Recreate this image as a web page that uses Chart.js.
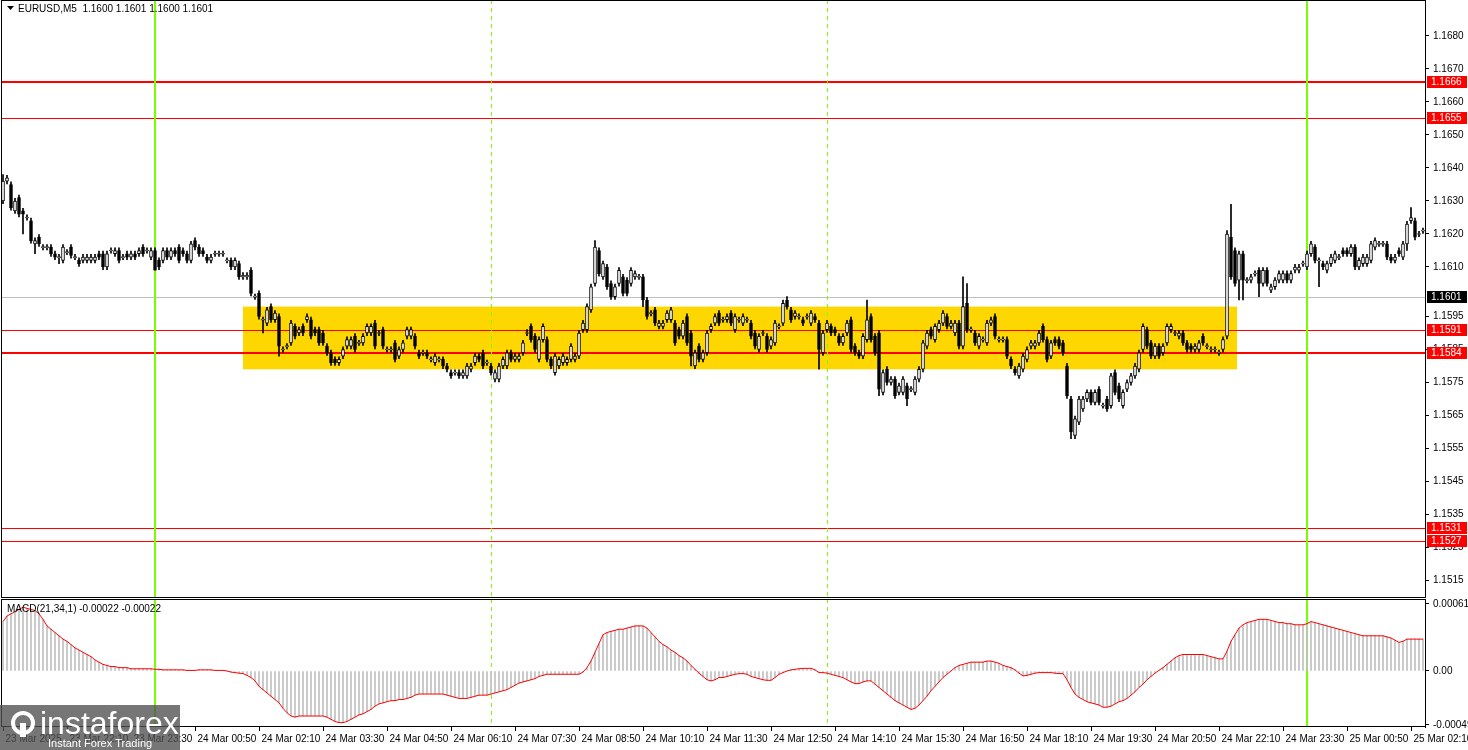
<!DOCTYPE html>
<html>
<head>
<meta charset="utf-8">
<script src="https://cdn.jsdelivr.net/npm/chart.js@4"></script>
<style>
  body { margin: 0; background: #fff; width: 1468px; height: 750px; overflow: hidden; position: relative; }
  canvas { position: absolute; left: 0; }
</style>
</head>
<body>
<canvas id="price" width="1468" height="598" style="top:0"></canvas>
<canvas id="macd" width="1468" height="151" style="top:599px"></canvas>
<script>
// candle bodies, pips above 1.1500 (EURUSD M5, 23 Mar 20:50 -> 25 Mar 02:25)
const opens = [130,136,135,127,131,127,125,124,117,119, 116,116,116,114,113,112,114.5,116,113,112,
  112,112,112,112,114,114,110,115,114,115, 113,114,113,114,114,116,115,113,115,112,
  112,115,113,115,116,115,114,112,118,116, 115,113,112,114,114,114,112,112,110,111,
  107,107,109,101,102,94,93,98,94,95, 85,86,87,92,90,92,94,94,91,91,
  90,86,84,82,81,83,86,86,89,87, 87,90,90,93,90,91,85,85,87,83,
  85,89,89,89,84,84,84,82,81,82, 82,80,78,78,78,77,77,79,81,83,
  84,81,80,76,76,80,80,84,82,82, 84,90,92,89,82,88,88,82,78,80,
  81,81,82,82,83,91,91,97,105,115, 107,110,105,101,105,107,106,105,107,107,
  107,100,96,97,92,92,94,94,93,91, 89,95,90,80,86,82,84,91,93,96,
  94,94,96,91,94,93,94,93,90,85, 90,89,86,87,92,93,100,97,95,95,
  94,95,93,95,93,84,91,92,91,89, 87,90,94,86,84,83,88,95,89,90,
  72,79,75,76,72,72,74,73,72,76, 79,86,91,88,91,93,95,92,90,93,
  86,99,91,90,86,88,87,93,95,88, 88,88,82,79,77,79,82,86,86,87,
  92,88,83,88,88,87,80,70,59,63, 67,70,72,69,73,68,70,68,78,74,
  68,73,75,77,79,85,91,87,83,86, 84,87,91,90,89,90,87,86,85,85,
  89,86,85,85,84,85,89,119,115,106, 114,106,106,108,109,105,109,103,104,106,
  106,108,106,109,109,111,110,114,116,112, 111,109,111,112,113,115,115,114,116,110,
  111,111,112,116,117,117,117,113,112,115, 113,117,124,124,120,121];
const closes = [136,137,128,130,126,126,125,118,118,117, 116,116,114,113,113,116,114.5,113.5,113,111,
  113,113,113,113,113,110,114,115,115,112, 113,113,114,113,115,114,115,115,109,110,
  115,113,115,114,112,114,112,117,116,114, 114,112,113,114,114,114,112,110,112,107,
  107.5,107.5,102,101,95,94,97,94,96,86, 85,86,93,89,91,90,95,89,90,87,
  87,84,81,81,82,85,88,88,85,87, 89,92,92,86,90,86,85,85,82,85,
  87,91,91,86,83,84,83,82,83,82, 80,79,77,78,77,78,80,80,83,82,
  80,81,78,78,80,82,84,82,83,83, 87,90,88,85,88,92,82,80,83,82,
  83,82,86,83,90,93,98,104,116,108, 111,104,101,104,109,102,102,109,108,107,
  100,95,96,93,93,93,96,97,87,89, 93,87,83,84,82,84,90,92,95,93,
  94,95,93,95,94,95,94,89,86,89, 90,85,88,93,92,99,98,94,96,95,
  93,95,96,94,85,90,93,90,90,87, 89,93,85,84,83,89,94,88,84,73,
  78,75,76,71,74,76,70,73,76,79, 87,90,89,92,93,96,92,93,93,86,
  98,91,91,87,89,88,93,94,89,88, 88,83,80,78,80,83,85,87,87,90,
  88,82,87,87,86,84,71,60,64,70, 70,72,69,72,69,68,67,77,72,70,
  72,75,77,80,84,92,86,83,86,83, 86,92,92,90,90,87,85,85,86,87,
  87,86,85,85,84,88,120,107,105,114, 106,106,107,108,105,109,105,104,106,108,
  108,106,108,110,110,111,114,117,112,112, 110,111,113,114,113,114,114,116,110,112,
  113,113,117,118,117,117,113,112,113,114, 117,123,125,119,120,121];
// notable wick extremes [candle index, pips]
const wickHighs = [[0,138],[131,91],[148,118],[195,100],[196,101],[216,100],[240,107],[241,105],[306,121],[307,129],[352,128]];
const wickLows = [[5,120],[8,114],[14,111],[38,109],[65,90],[69,83],[160,98],[172,80],[204,79],[219,71],[226,68],
  [267,58],[268,58],[309,100],[310,100],[314,101],[329,104],[351,115]];
// MACD(21,34,1) in units of 0.00001
const macd = [45,50,52,54,56,58,57,56,55,52, 47,41,38,35,32,29,27,24,21,19,
  17,15,13,10,8,6,5,4,4,3, 3,3,2,2,2,2,2,2,1.5,1.5,
  1,1,1,1,1,1,0.5,0.5,0.5,1, 1,1,1,0.5,0.5,0.5,0,-1,-1.5,-2,
  -2.4,-4,-6,-9,-14,-17,-20,-23,-26,-29, -34,-38,-41,-42,-41,-41,-41,-41,-41,-41,
  -41,-42,-44,-46,-47,-47,-46,-44,-42,-40, -39,-37,-35,-32,-30,-29,-28,-27,-27,-26,
  -26,-25,-24,-22,-21,-21,-21,-21,-21,-21, -21,-22,-23,-24,-25,-25,-25,-24,-23,-22,
  -22,-22,-21,-20,-19,-18,-17,-15,-13,-11, -10,-9,-8,-7,-5,-4,-3,-3,-3,-3,
  -3,-3,-3,-3,-3,-1,3,9,17,25, 33,35,36,37,38,38,39,40,41,41,
  41,39,35,31,27,24,22,19,17,14, 12,9,5,1.5,-2,-5,-8,-9,-8,-6,
  -6,-5,-4,-3,-2.5,-2.4,-3,-5,-6,-7, -8,-8.5,-8.5,-6,-3,-1.5,0,1,1.5,2,
  2.4,2.4,2.4,1,-1.5,-1.5,-2,-3,-4,-5, -6,-8,-10,-11.5,-11.5,-10,-9,-9,-12,-15,
  -18,-21,-24,-27,-29,-31,-33,-35,-34,-31, -27,-23,-18,-14,-10,-6,-3,0,3,5,
  6,7,8,8,8,8,9,9,8,7, 5,4,3,1,-2,-4.5,-4,-3,-2,-1.5,
  -1.5,-1.5,-1.5,-2,-2.4,-2.4,-8,-15,-21,-24, -26,-28,-29,-30,-31,-33,-33,-32,-30,-28,
  -27,-25,-22,-19,-15,-12,-8,-5,-2,0.6, 3,6,9,12,14,15,15,15,15,15,
  15,14,13,12,11,11,18,27,33,39, 42,44,45,46,47,47,47,46,45,44,
  44,43,43,42,42,42,43,45,44,43, 42,41,40,39,38,37,36,35,34,33,
  32,32,32,32,32,32,31,30,28,26, 27,29,29,29,29,29];

const timeIdx = [0,16,32,48,64,80,96,112,128,144,160,176,192,208,224,240,256,272,288,304,320,336,352];
const timeLabels = ['23 Mar 2025','23 Mar 22:10','23 Mar 23:30','24 Mar 00:50','24 Mar 02:10','24 Mar 03:30',
  '24 Mar 04:50','24 Mar 06:10','24 Mar 07:30','24 Mar 08:50','24 Mar 10:10','24 Mar 11:30','24 Mar 12:50',
  '24 Mar 14:10','24 Mar 15:30','24 Mar 16:50','24 Mar 18:10','24 Mar 19:30','24 Mar 20:50','24 Mar 22:10',
  '24 Mar 23:30','25 Mar 00:50','25 Mar 02:10'];
const priceTicks = [1.1680,1.1670,1.1660,1.1650,1.1640,1.1630,1.1620,1.1610,1.1595,1.1585,1.1575,1.1565,1.1555,1.1545,1.1535,1.1525,1.1515];
const redLevels = [[1.1666,2],[1.1655,1],[1.1591,1],[1.1584,2],[1.1531,1],[1.1527,1]];
const bidLevel = 1.1601;
const zone = [1.1579, 1.1598, 60, 308.5];   // price from, price to, candle from, candle to
const dayLines = [38, 326];
const dashLines = [122, 206];

const FONT = '10px "Liberation Sans", Arial, sans-serif';
Chart.defaults.font.family = '"Liberation Sans", Arial, sans-serif';
Chart.defaults.font.size = 10;
Chart.defaults.color = '#000';

const P = v => 1.15 + v / 10000;
const idx = opens.map((_, i) => i);
const hiMap = new Map(wickHighs), loMap = new Map(wickLows);
const bodies = opens.map((o, i) => {
  const c = closes[i];
  return o === c ? [P(o - 0.15), P(o + 0.15)] : [P(o), P(c)];
});
const wicks = opens.map((o, i) => {
  const top = Math.max(o, closes[i]), bot = Math.min(o, closes[i]);
  return [P(loMap.has(i) ? loMap.get(i) : bot - 0.8), P(hiMap.has(i) ? hiMap.get(i) : top + 0.8)];
});

function fitAxis(s) {
  s.width = 43;
  s.paddingTop = 0;
  s.paddingBottom = 0;
}

function vLines(chart) {
  const { ctx, chartArea: a, scales: { x } } = chart;
  ctx.save();
  ctx.strokeStyle = '#7cfc00';
  ctx.lineWidth = 1;
  ctx.setLineDash([4, 4]);
  dashLines.forEach(i => {
    const px = Math.round(x.getPixelForValue(i)) + 0.5;
    ctx.beginPath(); ctx.moveTo(px, a.top); ctx.lineTo(px, a.bottom); ctx.stroke();
  });
  ctx.setLineDash([]);
  ctx.lineWidth = 2;
  dayLines.forEach(i => {
    const px = Math.round(x.getPixelForValue(i));
    ctx.beginPath(); ctx.moveTo(px, a.top); ctx.lineTo(px, a.bottom); ctx.stroke();
  });
  ctx.restore();
}

function axisBox(ctx, y, text, bg) {
  ctx.fillStyle = bg;
  ctx.fillRect(1427, Math.round(y) - 6, 40, 12);
  ctx.fillStyle = '#fff';
  ctx.textBaseline = 'middle';
  ctx.textAlign = 'left';
  ctx.fillText(text, 1431, Math.round(y) + 0.5);
}

const priceDeco = {
  id: 'priceDeco',
  beforeDatasetsDraw(chart) {
    const { ctx, chartArea: a, scales: { x, y } } = chart;
    ctx.save();
    ctx.fillStyle = '#ffd700';
    const x0 = x.getPixelForValue(zone[2]), x1 = x.getPixelForValue(zone[3]);
    const y0 = y.getPixelForValue(zone[1]), y1 = y.getPixelForValue(zone[0]);
    ctx.fillRect(x0, y0, x1 - x0, y1 - y0);
    ctx.strokeStyle = '#c0c0c0'; ctx.lineWidth = 1;
    let py = Math.round(y.getPixelForValue(bidLevel)) + 0.5;
    ctx.beginPath(); ctx.moveTo(a.left, py); ctx.lineTo(a.right, py); ctx.stroke();
    ctx.strokeStyle = '#ff0000';
    redLevels.forEach(([v, w]) => {
      ctx.lineWidth = w;
      const yy = Math.round(y.getPixelForValue(v)) + (w === 1 ? 0.5 : 0);
      ctx.beginPath(); ctx.moveTo(a.left, yy); ctx.lineTo(a.right, yy); ctx.stroke();
    });
    ctx.restore();
    vLines(chart);
  },
  afterDraw(chart) {
    const { ctx, chartArea: a, scales: { y } } = chart;
    ctx.save();
    ctx.strokeStyle = '#000'; ctx.lineWidth = 1;
    ctx.strokeRect(a.left + 0.5, 0.5, a.right - a.left, chart.height - 1);
    ctx.font = FONT;
    redLevels.forEach(([v]) => axisBox(ctx, y.getPixelForValue(v), v.toFixed(4), '#ff0000'));
    axisBox(ctx, y.getPixelForValue(bidLevel), bidLevel.toFixed(4), '#000');
    ctx.fillStyle = '#000';
    ctx.beginPath(); ctx.moveTo(7, 6); ctx.lineTo(14, 6); ctx.lineTo(10.5, 10); ctx.closePath(); ctx.fill();
    ctx.textBaseline = 'middle';
    ctx.fillText('EURUSD,M5  1.1600 1.1601 1.1600 1.1601', 18, 9);
    ctx.restore();
  }
};

new Chart(document.getElementById('price'), {
  type: 'bar',
  data: {
    labels: idx,
    datasets: [
      { data: wicks, backgroundColor: '#000', barThickness: 1, grouped: false, order: 2 },
      { data: bodies, backgroundColor: opens.map((o, i) => closes[i] >= o ? '#fff' : '#000'),
        borderColor: '#000', borderWidth: 1, borderSkipped: false, barThickness: 3, grouped: false, order: 1 }
    ]
  },
  options: {
    responsive: false, animation: false, devicePixelRatio: 1,
    layout: { padding: { left: 1, top: 0, bottom: 0, right: 0 } },
    plugins: { legend: { display: false }, tooltip: { enabled: false } },
    scales: {
      x: { display: false, offset: true },
      y: {
        position: 'right', min: 1.15097, max: 1.16909,
        afterFit: fitAxis,
        afterBuildTicks: s => { s.ticks = priceTicks.map(v => ({ value: v })); },
        ticks: { callback: v => v.toFixed(4), padding: 4, font: { size: 10 } },
        grid: { drawOnChartArea: false, tickLength: 4, color: '#000' },
        border: { display: true, color: '#000' }
      }
    }
  },
  plugins: [priceDeco]
});

const macdDeco = {
  id: 'macdDeco',
  beforeDatasetsDraw(chart) { vLines(chart); },
  afterDraw(chart) {
    const { ctx, chartArea: a, scales: { x } } = chart;
    ctx.save();
    ctx.strokeStyle = '#000'; ctx.lineWidth = 1;
    ctx.strokeRect(a.left + 0.5, a.top + 0.5, a.right - a.left, a.bottom - a.top - 1);
    ctx.font = FONT; ctx.fillStyle = '#000'; ctx.textBaseline = 'middle';
    ctx.fillText('MACD(21,34,1) -0.00022 -0.00022', 7, 10);
    timeIdx.forEach((i, k) => {
      const px = Math.round(x.getPixelForValue(i)) + 0.5;
      ctx.beginPath(); ctx.moveTo(px, a.bottom); ctx.lineTo(px, a.bottom + 4); ctx.stroke();
      ctx.fillText(timeLabels[k], px + 2, a.bottom + 12);
    });
    // logo
    ctx.fillStyle = 'rgba(80,80,80,0.78)';
    ctx.fillRect(0, 106, 180, 45);
    ctx.strokeStyle = '#fff'; ctx.lineWidth = 4;
    ctx.beginPath(); ctx.arc(23, 124, 10, 0, Math.PI * 2); ctx.stroke();
    ctx.fillStyle = '#fff';
    ctx.fillRect(20, 124, 6, 14);
    ctx.font = '32px "Liberation Sans", Arial, sans-serif';
    ctx.textBaseline = 'alphabetic';
    ctx.fillText('instaforex', 40, 135);
    ctx.font = '11px "Liberation Sans", Arial, sans-serif';
    ctx.fillText('Instant Forex Trading', 48, 148);
    ctx.restore();
  }
};

new Chart(document.getElementById('macd'), {
  type: 'bar',
  data: {
    labels: idx,
    datasets: [
      { type: 'line', data: macd.map(v => v / 100000), borderColor: '#ff0000', borderWidth: 1,
        pointRadius: 0, order: 1 },
      { data: macd.map(v => v / 100000), backgroundColor: '#c0c0c0', barThickness: 1, order: 2 }
    ]
  },
  options: {
    responsive: false, animation: false, devicePixelRatio: 1,
    layout: { padding: { left: 1, top: 0, bottom: 23, right: 0 } },
    plugins: { legend: { display: false }, tooltip: { enabled: false } },
    scales: {
      x: { display: false, offset: true },
      y: {
        position: 'right', min: -0.00051, max: 0.000655,
        afterFit: fitAxis,
        afterBuildTicks: s => { s.ticks = [0.00061, 0, -0.00049].map(v => ({ value: v })); },
        ticks: { callback: v => v === 0 ? '0.00' : v.toFixed(5), padding: 4, font: { size: 10 } },
        grid: { drawOnChartArea: false, tickLength: 4, color: '#000' },
        border: { display: true, color: '#000' }
      }
    }
  },
  plugins: [macdDeco]
});
</script>
</body>
</html>
